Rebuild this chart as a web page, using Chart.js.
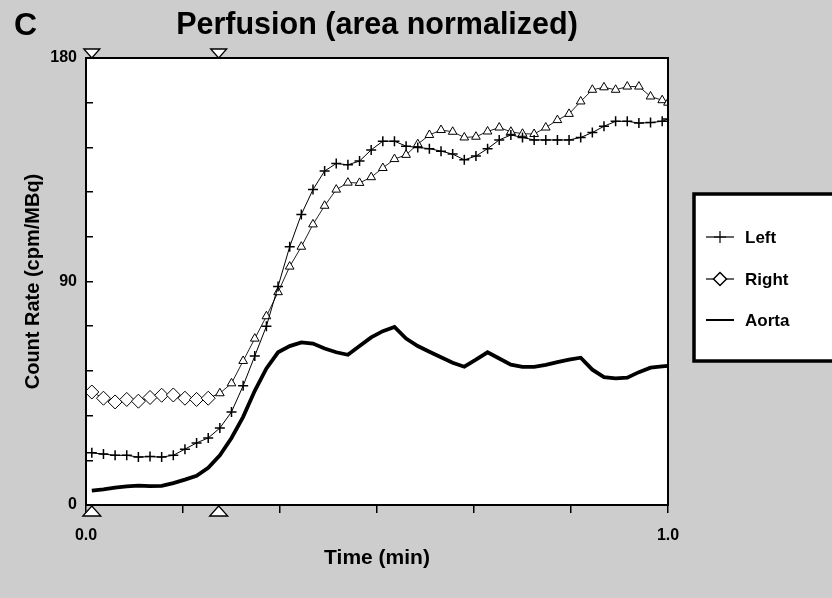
<!DOCTYPE html>
<html>
<head>
<meta charset="utf-8">
<script src="https://cdn.jsdelivr.net/npm/chart.js@4.4.1/dist/chart.umd.min.js"></script>
<style>
  html, body { margin: 0; padding: 0; background: #cdcdcd; }
</style>
</head>
<body>
<canvas id="perf" width="832" height="598"></canvas>
<script>
// sample times (min)
const times = [0.01,0.03,0.05,0.07,0.09,0.11,0.13,0.15,0.17,0.19,
               0.21,0.23,0.25,0.27,0.29,0.31,0.33,0.35,0.37,0.39,
               0.41,0.43,0.45,0.47,0.49,0.51,0.53,0.55,0.57,0.59,
               0.61,0.63,0.65,0.67,0.69,0.71,0.73,0.75,0.77,0.79,
               0.81,0.83,0.85,0.87,0.89,0.91,0.93,0.95,0.97,0.99,1.0];

// count rate (cpm/MBq)
const leftRate = [21,20.5,20,20,19.3,19.5,19.3,20,22.5,25,
                  27,31,37.5,48,60,72,88,104,117,127,
                  134.5,137.5,137,138.5,143,146.5,146.5,144.5,144,143.5,
                  142.5,141.3,139,140.5,143.5,147,149,148,147,147,
                  147,147,148,150,152.5,154.5,154.5,153.8,154,154.5,155.4];
const rightRate = [45.5,43,41.5,42.5,41.8,43.3,44.2,44.3,43,42.5,
                   43,45,49,58,67,76,85.7,96,104,113,
                   120.5,127,129.8,129.7,132,135.7,139.3,141,145.3,149,
                   151,150.3,148,148.3,150.4,152,150.3,149.5,149.4,152,
                   155,157.5,162.5,167.2,168.2,167.2,168.5,168.5,164.5,163,162];
const aortaRate = [5.8,6.3,7,7.5,7.8,7.6,7.7,8.8,10.2,11.8,
                   15,20,27,35.5,46,55,61.5,64,65.5,65,
                   63,61.5,60.5,64,67.5,70,71.7,67,64,61.7,
                   59.5,57.3,55.7,58.5,61.5,59,56.5,55.6,55.6,56.4,
                   57.5,58.5,59.3,54.5,51.5,51,51.3,53.5,55.3,55.8,56];

const seriesNames = ['Left', 'Right', 'Aorta'];
const xTickValues = [0, 1/6, 2/6, 3/6, 4/6, 5/6, 1];
const xTickLabels = ['0.0', '1.0'];
const yLabelled = [0, 90, 180];
const markerTimes = [0.01, 0.228];   // open triangles on top / bottom frame

const FONT = "'Liberation Sans', Arial, sans-serif";
Chart.defaults.font.family = FONT;
Chart.defaults.font.weight = 'bold';
Chart.defaults.color = '#000';

const pts = vals => vals.map((v, i) => ({x: times[i], y: v}));

function triangle(ctx, x, y, dir, half, h){
  ctx.beginPath();
  ctx.moveTo(x, y);
  ctx.lineTo(x - half, y + dir * h);
  ctx.lineTo(x + half, y + dir * h);
  ctx.closePath();
  ctx.fillStyle = '#fff';
  ctx.fill();
  ctx.lineWidth = 1.3;
  ctx.strokeStyle = '#000';
  ctx.stroke();
}

// white plot area, frame, panel letter, markers and the boxed legend
const paperPlugin = {
  id: 'paper',
  beforeDraw(chart){
    const {ctx, chartArea: a} = chart;
    ctx.save();
    ctx.fillStyle = '#fff';
    ctx.fillRect(a.left, a.top, a.right - a.left, a.bottom - a.top);
    ctx.restore();
  },
  afterDraw(chart){
    const {ctx, chartArea: a, scales} = chart;
    ctx.save();
    ctx.strokeStyle = '#000';
    ctx.lineWidth = 2;
    ctx.strokeRect(a.left, a.top, a.right - a.left, a.bottom - a.top);

    ctx.fillStyle = '#000';
    ctx.font = 'bold 32px ' + FONT;
    ctx.textBaseline = 'middle';
    ctx.textAlign = 'left';
    ctx.fillText('C', 14, 26);

    markerTimes.forEach(t => {
      const x = scales.x.getPixelForValue(t);
      triangle(ctx, x, a.top, -1, 8, 9);
      triangle(ctx, x, a.bottom + 1, 1, 9, 10);
    });

    // legend box
    ctx.fillStyle = '#fff';
    ctx.fillRect(694, 194, 150, 167);
    ctx.lineWidth = 3.5;
    ctx.strokeStyle = '#000';
    ctx.strokeRect(694, 194, 150, 167);
    const rows = [237, 279, 320];
    chart.data.datasets.forEach((ds, i) => {
      const y = rows[i];
      ctx.strokeStyle = '#000';
      ctx.lineWidth = i === 2 ? 2 : 1.2;
      ctx.beginPath();
      ctx.moveTo(706, y);
      ctx.lineTo(734, y);
      ctx.stroke();
      if (i === 0) {
        Chart.helpers.drawPoint(ctx, {pointStyle: 'cross', radius: 6, borderWidth: 1.5, rotation: 0}, 720, y);
      } else if (i === 1) {
        ctx.fillStyle = '#fff';
        ctx.lineWidth = 1.5;
        Chart.helpers.drawPoint(ctx, {pointStyle: 'rectRot', radius: 6.5, borderWidth: 1.5, rotation: 0}, 720, y);
      }
      ctx.fillStyle = '#000';
      ctx.font = 'bold 17px ' + FONT;
      ctx.textAlign = 'left';
      ctx.fillText(ds.label, 745, y + 1);
    });
    ctx.restore();
  }
};

new Chart(document.getElementById('perf'), {
  type: 'line',
  data: {
    datasets: [
      {
        label: seriesNames[0],
        data: pts(leftRate),
        borderColor: '#000',
        borderWidth: 1,
        pointStyle: 'cross',
        pointRadius: 5,
        pointBorderWidth: 1.5,
        pointBorderColor: '#000',
        tension: 0
      },
      {
        label: seriesNames[1],
        data: pts(rightRate),
        borderColor: '#222',
        borderWidth: 1,
        pointStyle: c => times[c.dataIndex] < 0.225 ? 'rectRot' : 'triangle',
        pointRadius: c => times[c.dataIndex] < 0.225 ? 7 : 5,
        pointBackgroundColor: '#fff',
        pointBorderColor: '#000',
        pointBorderWidth: 1,
        tension: 0
      },
      {
        label: seriesNames[2],
        data: pts(aortaRate),
        borderColor: '#000',
        borderWidth: 3.8,
        pointRadius: 0,
        tension: 0
      }
    ]
  },
  options: {
    responsive: false,
    animation: false,
    devicePixelRatio: 1,
    layout: { padding: { left: 0, right: 164, top: 0, bottom: 0 } },
    plugins: {
      legend: { display: false },
      tooltip: { enabled: false },
      title: {
        display: true,
        fullSize: false,
        text: 'Perfusion (area normalized)',
        color: '#000',
        font: { size: 30.5, weight: 'bold' },
        padding: { top: 7, bottom: 14.4 }
      }
    },
    scales: {
      x: {
        type: 'linear',
        min: 0,
        max: 1,
        afterFit: s => { s.height = 93; },
        afterBuildTicks: s => { s.ticks = xTickValues.map(v => ({value: v})); },
        ticks: {
          padding: 13,
          maxRotation: 0,
          autoSkip: false,
          font: { size: 16, weight: 'bold' },
          callback: v => v === 0 ? xTickLabels[0] : (Math.abs(v - 1) < 1e-6 ? xTickLabels[1] : '')
        },
        grid: { drawOnChartArea: false, tickLength: 8, color: '#000', lineWidth: 1.5 },
        border: { display: true, color: '#000', width: 2 },
        title: {
          display: true,
          text: 'Time (min)',
          font: { size: 21, weight: 'bold' },
          padding: { top: 0, bottom: 27 }
        }
      },
      y: {
        min: 0,
        max: 180,
        afterFit: s => { s.width = 86; },
        ticks: {
          stepSize: 18,
          padding: 16,
          font: { size: 16, weight: 'bold' },
          callback: v => yLabelled.includes(v) ? String(v) : ''
        },
        grid: { drawOnChartArea: false, tickLength: -7, color: '#000', lineWidth: 1.5 },
        border: { display: true, color: '#000', width: 2 },
        title: {
          display: true,
          text: 'Count Rate (cpm/MBq)',
          font: { size: 20, weight: 'bold' },
          padding: { top: 21, bottom: 0 }
        }
      }
    }
  },
  plugins: [paperPlugin]
});
</script>
</body>
</html>
